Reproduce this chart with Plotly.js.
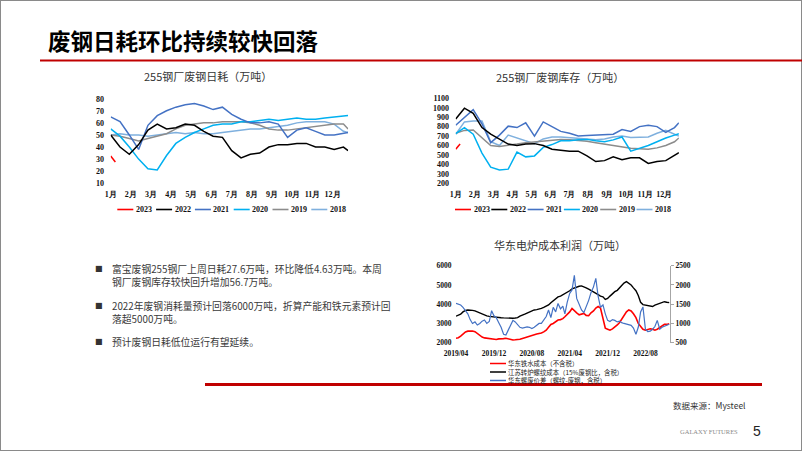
<!DOCTYPE html>
<html><head><meta charset="utf-8">
<script src="https://cdn.plot.ly/plotly-3.0.1.min.js"></script>
<style>html,body{margin:0;padding:0;background:#fff;}#chart{width:802px;height:451px;}</style>
</head><body><div id="chart"></div>
<script>
const W = 802, H = 451;
const px = x => x / W, py = y => 1 - y / H;

// ---------- Chart 1 & 2 data (week of year) ----------
const weeks = [1,3,5,7,9,11,13,15,17,19,21,23,25,27,29,31,33,35,37,39,41,43,45,47,49,51,52];
const weeks2023 = [1,2];
const monthLabels = ['1月','2月','3月','4月','5月','6月','7月','8月','9月','10月','11月','12月'];
const seriesNames = ['2023','2022','2021','2020','2019','2018'];
const seriesColors = ['#FF0000','#000000','#4472C4','#00B0F0','#8C8C8C','#7FB0DE'];

const daily2023 = [32.6, 27.6];
const daily2022 = [50,40,34,42,54,59,55,56,59,58,53,49,48,37,31,34,35,40,42,42,43,43,40,40,38,40,37];
const daily2021 = [65,61,50,38,58,66,70,73,75,76,74,71,73,67,63,60,60,61,59,48,54,56,53,50,50,51,52];
const daily2020 = [55,49,40,30,22,21,33,43,48,52,55,58,59,59,61,61,62,63,62,63,64,63,63,64,65,66,66];
const daily2019 = [50,49,47,45,47,49,51,55,58,59,60,60,61,61,61,60,58,55,54,54,55,56,57,58,59,59,55];
const daily2018 = [50,51,50,50,49,50,51,52,51,52,51,51,52,53,54,55,55,56,57,58,60,61,61,61,59,53,52];

const stock2023 = [560, 617];
const stock2022 = [880,995,940,790,720,665,615,600,615,620,600,560,550,540,540,490,430,440,480,450,470,470,410,430,440,500,525];
const stock2021 = [815,900,980,830,630,710,805,790,840,700,850,800,750,730,700,705,710,715,720,770,750,800,815,800,740,790,840];
const stock2020 = [725,790,720,520,370,340,350,530,480,490,580,610,650,650,660,665,650,640,660,690,540,570,600,640,680,710,725];
const stock2019 = [730,760,765,680,600,590,600,615,630,640,650,660,665,660,655,645,630,615,600,585,570,565,560,575,600,640,680];
const stock2018 = [720,850,860,860,640,600,710,680,650,620,670,690,690,685,680,670,660,670,690,700,685,690,690,730,760,720,700];

// ---------- Chart 3 data (semi-monthly, 2019-04 .. 2023-01) ----------
const costDates = [];
for (let k = 0; k <= 90; k++) {
  const m = 3 + Math.floor(k / 2);
  const y = 2019 + Math.floor(m / 12), mm = (m % 12) + 1;
  costDates.push(y + '-' + String(mm).padStart(2,'0') + '-' + (k % 2 ? '16' : '01'));
}
const ironCost = [2230,2260,2340,2450,2560,2600,2620,2610,2570,2480,2380,2290,2250,2230,2210,2190,2180,2170,2200,2190,2210,2230,2200,2150,2140,2150,2160,2180,2220,2260,2300,2350,2400,2430,2450,2480,2500,2560,2650,2800,2950,3000,3100,3180,3200,3250,3350,3450,3600,3780,3650,3550,3450,3500,3520,3420,3400,3550,3650,3800,3880,3800,3300,2750,2700,2650,2720,2800,2920,3050,3200,3400,3600,3700,3650,3500,3300,3000,2850,2700,2650,2700,2720,2700,2650,2700,2800,2900,2950,2950,2980];
const bofCost = [3380,3420,3480,3600,3680,3700,3700,3680,3650,3600,3540,3480,3420,3390,3370,3350,3340,3320,3310,3300,3290,3280,3260,3250,3270,3280,3300,3380,3420,3480,3540,3600,3650,3700,3720,3740,3780,3830,3880,3960,4080,4180,4250,4380,4420,4480,4560,4620,4700,4800,4850,4900,4930,4950,4920,4850,4780,4720,4650,4600,4500,4420,4380,4250,4300,4420,4550,4650,4720,4850,4980,5100,5170,5100,5000,4850,4700,4450,4100,3980,3950,3920,3900,3880,3950,4000,4050,4120,4130,4100,4080];
const scrapSpread = [1520,1490,1480,1420,1330,1250,1100,1000,1040,960,1000,1060,1090,1000,1050,1330,1200,1150,1020,900,720,700,820,960,1080,1040,960,900,880,900,910,900,870,900,950,1000,1000,1080,1180,1350,1150,1420,1300,1520,1380,1450,1250,1550,1780,1870,2250,1650,1500,1350,1280,1420,1600,1800,1950,2170,1700,1420,1480,1250,1080,1050,1100,1080,1040,1060,1020,1000,980,960,950,880,720,900,1300,1430,850,790,800,850,920,1080,850,900,920,960,980];
const costNames = ['华东铁水成本（不含税）','江苏转炉螺纹成本（15%废钢比，含税）','华东螺废价差（螺纹-废钢，含税）'];
const costColors = ['#FF0000','#000000','#4472C4'];
const costTickDates = ['2019-04-01','2019-12-01','2020-08-01','2021-04-01','2021-12-01','2022-08-01'];
const costTickLabels = ['2019/04','2019/12','2020/08','2021/04','2021/12','2022/08'];

// ---------- traces ----------
const dailySets = [[weeks2023,daily2023],[weeks,daily2022],[weeks,daily2021],[weeks,daily2020],[weeks,daily2019],[weeks,daily2018]];
const stockSets = [[weeks2023,stock2023],[weeks,stock2022],[weeks,stock2021],[weeks,stock2020],[weeks,stock2019],[weeks,stock2018]];
const traces = [];
for (let i = seriesNames.length - 1; i >= 0; i--) {
  traces.push({x: dailySets[i][0], y: dailySets[i][1], type:'scatter', mode:'lines', name: seriesNames[i],
    line:{color: seriesColors[i], width: 1.5}, xaxis:'x', yaxis:'y', showlegend:false, hoverinfo:'skip'});
  traces.push({x: stockSets[i][0], y: stockSets[i][1], type:'scatter', mode:'lines', name: seriesNames[i],
    line:{color: seriesColors[i], width: 1.5}, xaxis:'x2', yaxis:'y2', showlegend:false, hoverinfo:'skip'});
}
traces.push({x: costDates, y: bofCost, type:'scatter', mode:'lines', name: costNames[1], line:{color: costColors[1], width:1.4}, xaxis:'x3', yaxis:'y3', showlegend:false});
traces.push({x: costDates, y: ironCost, type:'scatter', mode:'lines', name: costNames[0], line:{color: costColors[0], width:1.6}, xaxis:'x3', yaxis:'y3', showlegend:false});
traces.push({x: costDates, y: scrapSpread, type:'scatter', mode:'lines', name: costNames[2], line:{color: costColors[2], width:1.2}, xaxis:'x3', yaxis:'y4', showlegend:false});

const monthTicks = monthLabels.map((_, i) => 1 + i * 52 / 12);
const serifBold = {family:'"Times New Roman","Liberation Serif",serif', size:8, color:'#111', weight:'bold'};
const baseAx = {showgrid:false, zeroline:false, showline:false, ticks:'outside', tickcolor:'rgba(0,0,0,0)', fixedrange:true};

const shapes = [];
const annotations = [];

shapes.push({type:'rect', xref:'paper', yref:'paper', x0:0, x1:1, y0:0, y1:1, line:{color:'#8a8a8a', width:2}});
shapes.push({type:'line', xref:'paper', yref:'paper', x0:px(40), x1:px(802), y0:py(60.5), y1:py(60.5), line:{color:'#C00000', width:2}});
shapes.push({type:'line', xref:'paper', yref:'paper', x0:px(205), x1:px(762), y0:py(384.5), y1:py(384.5), line:{color:'#C00000', width:3}});

annotations.push({text:'<b>废钢日耗环比持续较快回落</b>', xref:'paper', yref:'paper', x:px(46), y:py(40), xanchor:'left', yanchor:'middle', showarrow:false,
  font:{family:'"Noto Sans CJK SC",sans-serif', size:22.5, color:'#000'}});
const titleFont = {family:'"Noto Sans CJK SC",sans-serif', size:11, color:'#333'};
annotations.push({text:'255钢厂废钢日耗（万吨）', xref:'paper', yref:'paper', x:px(208), y:py(76), showarrow:false, xanchor:'center', yanchor:'middle', font:titleFont});
annotations.push({text:'255钢厂废钢库存（万吨）', xref:'paper', yref:'paper', x:px(560), y:py(76.5), showarrow:false, xanchor:'center', yanchor:'middle', font:titleFont});
annotations.push({text:'华东电炉成本利润（万吨）', xref:'paper', yref:'paper', x:px(560), y:py(245), showarrow:false, xanchor:'center', yanchor:'middle', font:titleFont});

function rowLegend(x0, step, yLeg) {
  seriesNames.forEach((n, i) => {
    const xs = x0 + i * step;
    shapes.push({type:'line', xref:'paper', yref:'paper', x0:px(xs), x1:px(xs + 16), y0:py(yLeg), y1:py(yLeg), line:{color:seriesColors[i], width:1.6}});
    annotations.push({text:n, xref:'paper', yref:'paper', x:px(xs + 16.5), y:py(yLeg), xanchor:'left', yanchor:'middle', showarrow:false, font:serifBold});
  });
}
rowLegend(117.3, 38.8, 209.5);
rowLegend(455, 36.3, 209.5);
const legYs = [363.5, 372, 380.5];
costNames.forEach((n, i) => {
  shapes.push({type:'line', xref:'paper', yref:'paper', x0:px(490), x1:px(506), y0:py(legYs[i]), y1:py(legYs[i]), line:{color:costColors[i], width:1.5}});
  annotations.push({text:n, xref:'paper', yref:'paper', x:px(506.5), y:py(legYs[i]), xanchor:'left', yanchor:'middle', showarrow:false, borderpad:0,
    font:{family:'"Noto Sans CJK SC",sans-serif', size:6.4, color:'#222'}});
});

const bulletFont = {family:'"Noto Sans CJK SC",sans-serif', size:9.8, color:'#3a3a3a'};
const bullets = [
  {y:275, t:'富宝废钢255钢厂上周日耗27.6万吨，环比降低4.63万吨。本周<br>钢厂废钢库存较快回升增加56.7万吨。', by:268},
  {y:312, t:'2022年废钢消耗量预计回落6000万吨，折算产能和铁元素预计回<br>落超5000万吨。', by:305},
  {y:341.5, t:'预计废钢日耗低位运行有望延续。', by:341.5}
];
bullets.forEach(b => {
  annotations.push({text:'■', xref:'paper', yref:'paper', x:px(98.7), y:py(b.by), xanchor:'center', yanchor:'middle', showarrow:false, font:{family:'"DejaVu Sans",sans-serif', size:8, color:'#333'}});
  annotations.push({text:b.t, xref:'paper', yref:'paper', x:px(109.5), y:py(b.y), xanchor:'left', yanchor:'middle', align:'left', showarrow:false, font:bulletFont});
});

annotations.push({text:'数据来源：Mysteel', xref:'paper', yref:'paper', x:px(748), y:py(404.5), xanchor:'right', yanchor:'middle', showarrow:false,
  font:{family:'"Noto Sans CJK SC",sans-serif', size:8.5, color:'#333'}});
annotations.push({text:'GALAXY FUTURES', xref:'paper', yref:'paper', x:px(709), y:py(431.5), xanchor:'center', yanchor:'middle', showarrow:false,
  font:{family:'"Liberation Serif",serif', size:6.5, color:'#8a8a8a'}});
annotations.push({text:'5', xref:'paper', yref:'paper', x:px(756.5), y:py(431), xanchor:'center', yanchor:'middle', showarrow:false,
  font:{family:'"Liberation Sans",sans-serif', size:14, color:'#222'}});

const layout = {
  width: W, height: H, margin:{l:0,r:0,t:0,b:0}, paper_bgcolor:'#fff', plot_bgcolor:'rgba(0,0,0,0)', showlegend:false,
  xaxis: Object.assign({}, baseAx, {domain:[px(110.7), px(348.1)], range:[1,52], tickvals:monthTicks, ticktext:monthLabels, ticklen:3, tickfont:serifBold, anchor:'y'}),
  yaxis: Object.assign({}, baseAx, {domain:[py(183.3), py(98.7)], range:[10,80], dtick:10, tick0:0, ticklen:4, tickfont:serifBold, anchor:'x'}),
  xaxis2: Object.assign({}, baseAx, {domain:[px(455.7), px(678.9)], range:[1,52], tickvals:monthTicks, ticktext:monthLabels, ticklen:3, tickfont:serifBold, anchor:'y2'}),
  yaxis2: Object.assign({}, baseAx, {domain:[py(183.3), py(98.3)], range:[200,1100], dtick:100, tick0:0, ticklen:4, tickfont:serifBold, anchor:'x2'}),
  xaxis3: Object.assign({}, baseAx, {type:'date', domain:[px(456), px(670)], range:['2019-04-01','2023-01-06'], tickvals:costTickDates, ticktext:costTickLabels, ticklen:3, tickfont:Object.assign({}, serifBold, {size:7.5}), anchor:'y3'}),
  yaxis3: Object.assign({}, baseAx, {domain:[py(342.7), py(265.7)], range:[2000,6000], dtick:1000, tick0:0, ticklen:2, tickfont:Object.assign({}, serifBold, {size:7.5}), anchor:'x3'}),
  yaxis4: Object.assign({}, baseAx, {overlaying:'y3', side:'right', anchor:'x3', range:[500,2500], dtick:500, tick0:0, showline:true, linecolor:'#a6a6a6', linewidth:1, ticklen:3, tickcolor:'#a6a6a6', tickfont:Object.assign({}, serifBold, {size:7.5})}),
  shapes: shapes, annotations: annotations
};

Plotly.newPlot('chart', traces, layout, {staticPlot:true, displayModeBar:false});
</script>
</body></html>
